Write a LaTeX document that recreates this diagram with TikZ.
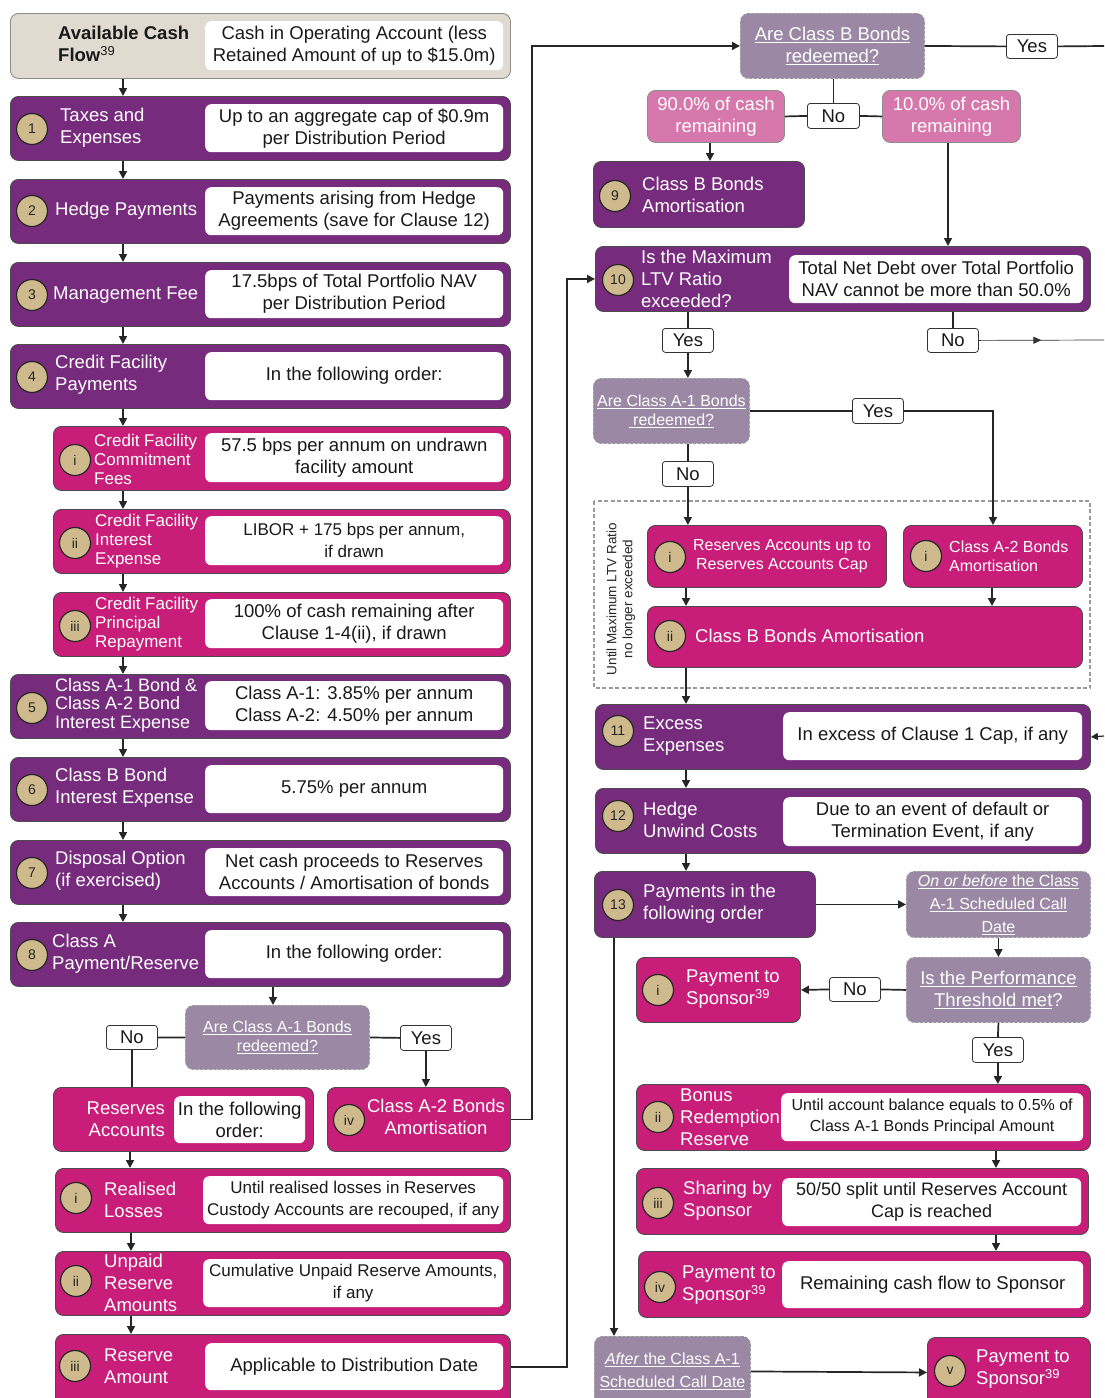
\documentclass[tikz,border=0pt]{standalone}
\usepackage{fontspec}
\setmainfont{Liberation Sans}
\usetikzlibrary{arrows.meta,decorations.markings,calc}
\definecolor{dpur}{HTML}{762B7D}
\definecolor{mag}{HTML}{C81E7A}
\definecolor{lpink}{HTML}{D778AC}
\definecolor{decf}{HTML}{9A88A5}
\definecolor{numtan}{HTML}{CEBA8C}
\definecolor{beigef}{HTML}{E0DAD0}
\newcommand\fa{\fontsize{18.5}{22}\selectfont}
\newcommand\fat{\fontsize{18}{18.5}\selectfont}
\newcommand\fb{\fontsize{17}{19}\selectfont}
\newcommand\fbb{\fontsize{17}{22}\selectfont}
\newcommand\fc{\fontsize{16}{19}\selectfont}
\newcommand\fcw{\fontsize{16}{21}\selectfont}
\newcommand\fcc{\fontsize{16}{23}\selectfont}
\newcommand\fd{\fontsize{13.5}{16}\selectfont}
\newcommand\R[7]{\node[#1,minimum width=#5pt,minimum height=#6pt] (#2) at (#3,#4) {#7};}
\tikzset{
  base/.style={anchor=north west, inner sep=0pt, rounded corners=8pt, draw=black!70, line width=0.9pt},
  pbox/.style={base, fill=dpur},
  mbox/.style={base, fill=mag},
  lbox/.style={base, fill=lpink, draw=black!45, text=white, font=\fa, align=center},
  cbox/.style={base, fill=beigef, draw=black!45},
  dec/.style={base, fill=decf, draw=black!40, dash pattern=on 3pt off 1.5pt, text=white, align=center, font=\fa},
  wbox/.style={anchor=north west, fill=white, rounded corners=6pt, inner sep=0pt, align=center, font=\fa, text=black!90},
  num/.style={circle, fill=numtan, draw=black!85, line width=1.2pt, minimum size=31pt, inner sep=0pt, font=\fontsize{14}{14}\selectfont, text=black!85},
  lbl/.style={anchor=west, align=left, text=white, font=\fa, inner sep=0pt},
  yn/.style={anchor=north west, draw=black!80, fill=white, rounded corners=3pt, line width=0.8pt, font=\fa, inner sep=0pt, text=black!90},
  arr/.style={-{Triangle[length=8pt,width=8pt]}, line width=1.7pt, draw=black!85},
  ln/.style={line width=1.7pt, draw=black!85},
}
\begin{document}
\begin{tikzpicture}[x=1pt,y=-1pt]
\useasboundingbox (0,0) rectangle (1104,1398);
\clip (0,0) rectangle (1104,1398);
\fill[white] (0,0) rectangle (1104,1398);

% ---------------- left column ----------------
\R{cbox}{top}{10}{13}{500}{65}{}
\R{wbox}{wtop}{205}{21}{298}{49}{Cash in Operating Account (less\\Retained Amount of up to \$15.0m)}
\node[lbl, text=black!90] (ltop) at (58,44) {\bfseries Available Cash\\\bfseries Flow\textmd{\textsuperscript{39}}};

\R{pbox}{b1}{10}{96}{500}{64}{}
\R{wbox}{w1}{205}{104}{298}{48}{Up to an aggregate cap of \$0.9m\\per Distribution Period}
\node[num] (c1) at (32,129) {1};
\node[lbl] (l1) at (60,128) {Taxes and\\Expenses};

\R{pbox}{b2}{10}{179}{500}{64}{}
\R{wbox}{w2}{205}{187}{298}{48}{Payments arising from Hedge\\Agreements (save for Clause 12)}
\node[num] (c2) at (32,211) {2};
\node[lbl] (l2) at (55,211) {Hedge Payments};

\R{pbox}{b3}{10}{262}{500}{64}{}
\R{wbox}{w3}{205}{270}{298}{48}{17.5bps of Total Portfolio NAV\\per Distribution Period}
\node[num] (c3) at (32,295) {3};
\node[lbl] (l3) at (53,295) {Management Fee};

\R{pbox}{b4}{10}{344}{500}{64}{}
\R{wbox}{w4}{205}{352}{298}{48}{In the following order:}
\node[num] (c4) at (32,377) {4};
\node[lbl] (l4) at (55,375) {Credit Facility\\Payments};

\R{mbox}{s1}{53}{426}{457}{64}{}
\R{wbox}{ws1}{205}{433}{298}{49}{57.5 bps per annum on undrawn\\facility amount}
\node[num] (cs1) at (75,460) {i};
\node[lbl, font=\fb] (ls1) at (94,459) {Credit Facility\\Commitment\\Fees};

\R{mbox}{s2}{53}{509}{457}{64}{}
\R{wbox, font=\fbb}{ws2}{205}{516}{298}{49}{LIBOR + 175 bps per annum,\\if drawn}
\node[num] (cs2) at (75,543) {ii};
\node[lbl, font=\fb] (ls2) at (95,541) {Credit Facility\\Interest\\Expense};

\R{mbox}{s3}{53}{592}{457}{64}{}
\R{wbox}{ws3}{205}{599}{298}{49}{100\% of cash remaining after\\Clause 1-4(ii), if drawn}
\node[num] (cs3) at (75,626) {iii};
\node[lbl, font=\fb] (ls3) at (95,624) {Credit Facility\\Principal\\Repayment};

\R{pbox}{b5}{10}{674}{500}{64}{}
\R{wbox}{w5}{205}{681}{298}{49}{Class A-1: 3.85\% per annum\\Class A-2: 4.50\% per annum}
\node[num] (c5) at (32,708) {5};
\node[lbl, font=\fat] (l5) at (55,705) {Class A-1 Bond \&\\Class A-2 Bond\\Interest Expense};

\R{pbox}{b6}{10}{757}{500}{64}{}
\R{wbox}{w6}{205}{765}{298}{48}{5.75\% per annum}
\node[num] (c6) at (32,790) {6};
\node[lbl] (l6) at (55,788) {Class B Bond\\Interest Expense};

\R{pbox}{b7}{10}{840}{500}{64}{}
\R{wbox}{w7}{205}{848}{298}{48}{Net cash proceeds to Reserves\\Accounts / Amortisation of bonds}
\node[num] (c7) at (32,873) {7};
\node[lbl] (l7) at (55,871) {Disposal Option\\(if exercised)};

\R{pbox}{b8}{10}{922}{500}{64}{}
\R{wbox}{w8}{205}{930}{298}{48}{In the following order:}
\node[num] (c8) at (32,955) {8};
\node[lbl] (l8) at (52,954) {Class A\\Payment/Reserve};

\R{dec, font=\fc}{dA}{185}{1005}{184}{64}{\underline{Are Class A-1 Bonds}\\\underline{redeemed?}}
\R{yn}{noA}{106}{1025}{51}{24}{No}
\R{yn}{yesA}{400}{1025}{51}{25}{Yes}

\R{mbox}{rs}{53}{1087}{260}{64}{}
\R{wbox}{wrs}{174}{1096}{131}{47}{In the following\\order:}
\node[lbl, anchor=east, align=right] (lrs) at (165,1119) {Reserves\\Accounts};

\R{mbox}{a2}{327}{1087}{183}{64}{}
\node[num] (ca2) at (349,1120) {iv};
\node[lbl, anchor=center, align=center] (la2) at (436,1117) {Class A-2 Bonds\\Amortisation};

\R{mbox}{rl}{55}{1168}{455}{64}{}
\R{wbox, font=\fbb}{wrl}{203}{1176}{300}{48}{Until realised losses in Reserves\\Custody Accounts are recouped, if any}
\node[num] (crl) at (76,1198) {i};
\node[lbl] (lrl) at (104,1200) {Realised\\Losses};

\R{mbox}{up}{55}{1251}{455}{64}{}
\R{wbox, font=\fbb}{wup}{203}{1259}{300}{48}{Cumulative Unpaid Reserve Amounts,\\if any}
\node[num] (cup) at (76,1281) {ii};
\node[lbl] (lup) at (104,1283) {Unpaid\\Reserve\\Amounts};

\R{mbox}{ra}{55}{1334}{455}{71}{}
\R{wbox}{wra}{205}{1343}{298}{47}{Applicable to Distribution Date}
\node[num] (cra) at (75,1366) {iii};
\node[lbl] (lra) at (104,1366) {Reserve\\Amount};

% ---------------- right column ----------------
\R{dec}{dB}{740}{13}{184}{65}{\underline{Are Class B Bonds}\\\underline{redeemed?}}
\R{yn}{yesB}{1006}{34}{51}{24}{Yes}
\coordinate (freeYes) at (1104,46);
\R{yn}{noB}{807}{103}{52}{25}{No}
\R{lbox}{p90}{647}{90}{137}{52}{90.0\% of cash\\remaining}
\R{lbox}{p10}{882}{90}{138}{52}{10.0\% of cash\\remaining}

\R{pbox}{b9}{593}{161}{211}{66}{}
\node[num] (c9) at (615,196) {9};
\node[lbl] (l9) at (642,195) {Class B Bonds\\Amortisation};

\R{pbox}{b10}{595}{246}{495}{65}{}
\R{wbox}{w10}{789}{255}{294}{48}{Total Net Debt over Total Portfolio\\NAV cannot be more than 50.0\%}
\node[num] (c10) at (618,280) {10};
\node[lbl] (l10) at (641,279) {Is the Maximum\\LTV Ratio\\exceeded?};
\R{yn}{yes10}{662}{328}{51}{24}{Yes}
\R{yn}{no10}{927}{328}{51}{24}{No}
\coordinate (freeNo) at (1104,340);

\R{dec, font=\fc}{dA1}{593}{378}{156}{65}{\underline{Are Class A-1 Bonds}\\\underline{\ redeemed?}}
\R{yn}{yesA1}{852}{398}{51}{25}{Yes}
\R{yn}{noA1}{662}{461}{51}{25}{No}

\draw[black!40, line width=1.2pt, dash pattern=on 4pt off 2.5pt] (594,501) rectangle (1090,688);
\node[rotate=90, font=\fd, align=center, text=black!85, inner sep=0pt] (ltv) at (621,599) {Until Maximum LTV Ratio\\no longer exceeded};

\R{mbox}{ir}{647}{525}{239}{62}{}
\node[num] (cir) at (670,557) {i};
\node[lbl, anchor=center, align=center, font=\fc] (lir) at (782,556) {Reserves Accounts up to\\Reserves Accounts Cap};
\R{mbox}{ia2}{903}{525}{179}{62}{}
\node[num] (cia2) at (926,556) {i};
\node[lbl, font=\fc] (lia2) at (949,556) {Class A-2 Bonds\\Amortisation};

\R{mbox}{ii}{647}{606}{435}{61}{}
\node[num] (cii) at (670,636) {ii};
\node[lbl] (lii) at (695,636) {Class B Bonds Amortisation};

\R{pbox}{b11}{595}{704}{495}{65}{}
\R{wbox}{w11}{783}{712}{299}{48}{In excess of Clause 1 Cap, if any}
\node[num] (c11) at (618,731) {11};
\node[lbl] (l11) at (643,736) {Excess\\Expenses};
\coordinate (freeIn) at (1104,736);

\R{pbox}{b12}{595}{788}{495}{65}{}
\R{wbox}{w12}{783}{797}{299}{49}{Due to an event of default or\\Termination Event, if any}
\node[num] (c12) at (618,816) {12};
\node[lbl] (l12) at (643,820) {Hedge\\Unwind Costs};

\R{pbox}{b13}{594}{871}{221}{66}{}
\node[num] (c13) at (618,905) {13};
\node[lbl] (l13) at (643,904) {Payments in the\\following order};

\R{dec, font=\fcc}{dC}{906}{871}{184}{66}{\underline{\textit{On or before} the Class}\\\underline{A-1 Scheduled Call}\\\underline{Date}}
\R{dec}{dP}{906}{957}{184}{65}{\underline{Is the Performance}\\\underline{Threshold met}?}
\R{yn}{noP}{829}{977}{51}{24}{No}
\R{mbox}{pi}{636}{957}{164}{65}{}
\node[num] (cpi) at (658,990) {i};
\node[lbl] (lpi) at (686,989) {Payment to\\Sponsor\textsuperscript{39}};
\R{yn}{yesP}{972}{1037}{51}{25}{Yes}

\R{mbox}{bii}{636}{1084}{454}{66}{}
\R{wbox, font=\fcw}{wbii}{781}{1093}{302}{48}{Until account balance equals to 0.5\% of\\Class A-1 Bonds Principal Amount}
\node[num] (cbii) at (658,1117) {ii};
\node[lbl] (lbii) at (680,1117) {Bonus\\Redemption\\Reserve};

\R{mbox}{biii}{636}{1168}{452}{66}{}
\R{wbox, font=\fontsize{18}{22}\selectfont}{wbiii}{782}{1178}{299}{48}{50/50 split until Reserves Account\\Cap is reached}
\node[num] (cbiii) at (658,1203) {iii};
\node[lbl] (lbiii) at (683,1201) {Sharing by\\Sponsor};

\R{mbox}{biv}{638}{1251}{452}{66}{}
\R{wbox}{wbiv}{782}{1261}{301}{47}{Remaining cash flow to Sponsor}
\node[num] (cbiv) at (660,1287) {iv};
\node[lbl] (lbiv) at (682,1285) {Payment to\\Sponsor\textsuperscript{39}};

\R{dec, font=\fcc}{dAf}{594}{1336}{156}{70}{\underline{\textit{After} the Class A-1}\\\underline{Scheduled Call Date}}
\R{mbox}{bv}{927}{1337}{163}{70}{}
\node[num] (cv) at (950,1371) {v};
\node[lbl] (lbv) at (976,1369) {Payment to\\Sponsor\textsuperscript{39}};

% ---------------- connectors: left ----------------
\coordinate (L) at (123,0);
\foreach \a/\b in {top/b1,b1/b2,b2/b3,b3/b4,b4/s1,s1/s2,s2/s3,s3/b5,b5/b6,b6/b7,b7/b8}
  \draw[arr] (\a.south -| L) -- (\b.north -| L);
\coordinate (Ld) at (273,0);
\draw[arr] (b8.south -| Ld) -- (dA.north -| Ld);
\draw[ln] (dA.west) -- (noA.east);
\draw[ln] (noA.south) -- (noA.south |- rs.north);
\draw[ln] (dA.east) -- (yesA.west);
\draw[arr] (yesA.south) -- (yesA.south |- a2.north);
\coordinate (Lr) at (130,0);
\draw[arr] (rs.south -| Lr) -- (rl.north -| Lr);
\coordinate (Lr2) at (131,0);
\draw[arr] (rl.south -| Lr2) -- (up.north -| Lr2);
\draw[arr] (up.south -| Lr2) -- (ra.north -| Lr2);
\draw[arr] (a2.east) -- ++(21,0) |- (dB.west);
\draw[arr] (wra.east -| ra.east) -- ++(56,0) |- (b10.west);

% ---------------- connectors: right ----------------
\draw[ln] (dB.east) -- (yesB.west);
\draw[ln] (yesB.east) -- (freeYes);
\draw[ln] (dB.south -| noB.north) -- (noB.north);
\draw[ln] (noB.west) -- (p90.east);
\draw[ln] (noB.east) -- (p10.west);
\coordinate (X9) at (710,0);
\draw[arr] (p90.south -| X9) -- (b9.north -| X9);
\coordinate (X10) at (948,0);
\draw[arr] (p10.south -| X10) -- (b10.north -| X10);
\draw[ln] (b10.south -| yes10.north) -- (yes10.north);
\draw[arr] (yes10.south) -- (yes10.south |- dA1.north);
\draw[ln] (b10.south -| no10.north) -- (no10.north);
\draw[line width=0.7pt, black!80, decoration={markings, mark=at position 0.5 with {\arrow{Triangle[length=8pt,width=7pt]}}}, postaction={decorate}] (no10.east) -- (freeNo);
\draw[ln] (dA1.east) -- (yesA1.west);
\draw[arr] (yesA1.east) -| (ia2.north);
\draw[ln] (noA1.north |- dA1.south) -- (noA1.north);
\draw[arr] (noA1.south) -- (noA1.south |- ir.north);
\coordinate (R1) at (686,0);
\coordinate (R2) at (992,0);
\draw[arr] (ir.south -| R1) -- (ii.north -| R1);
\draw[arr] (ia2.south -| R2) -- (ii.north -| R2);
\draw[arr] (ii.south -| R1) -- (b11.north -| R1);
\draw[arr] (b11.south -| R1) -- (b12.north -| R1);
\draw[arr] (b12.south -| R1) -- (b13.north -| R1);
\draw[-{Triangle[length=7pt,width=7pt]}, line width=1.2pt, black!85] (freeIn) -- (b11.east);
\draw[arr] (b13.east) -- (dC.west);
\draw[arr] (dC.south) -- (dP.north);
\draw[ln] (dP.west) -- (noP.east);
\draw[arr] (noP.west) -- (pi.east);
\draw[ln] (dP.south) -- (yesP.north);
\draw[arr] (yesP.south) -- (yesP.south |- bii.north);
\coordinate (R3) at (996,0);
\draw[arr] (bii.south -| R3) -- (biii.north -| R3);
\draw[arr] (biii.south -| R3) -- (biv.north -| R3);
\coordinate (R4) at (614,0);
\draw[arr] (b13.south -| R4) -- (dAf.north -| R4);
\draw[arr] (dAf.east) -- (bv.west);
\end{tikzpicture}
\end{document}
